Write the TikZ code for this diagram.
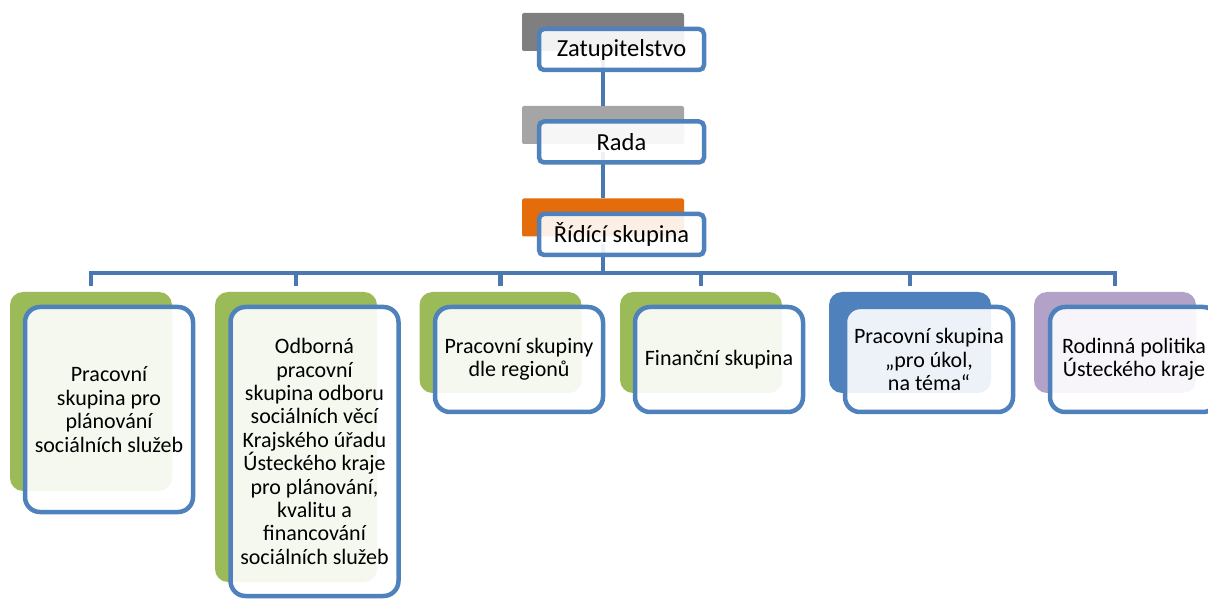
\documentclass[tikz,border=0pt]{standalone}
\usepackage{fontspec}
\setmainfont{Carlito}
\definecolor{bord}{HTML}{4F81BD}
\definecolor{cconn}{HTML}{4A79B2}
\definecolor{cgrey1}{HTML}{7F7F7F}
\definecolor{cgrey2}{HTML}{A5A5A5}
\definecolor{corange}{HTML}{E46C0A}
\definecolor{cgreen}{HTML}{9BBB59}
\definecolor{cblue}{HTML}{4F81BD}
\definecolor{cpurple}{HTML}{B2A2C7}
\tikzset{
  backtop/.style={fill=#1, rounded corners=2pt, inner sep=0pt, outer sep=0pt, minimum width=162pt, minimum height=38pt},
  fronttop/.style={draw=bord, line width=4.5pt, fill=white, fill opacity=0.9, text opacity=1, rounded corners=5pt, inner sep=0pt, outer sep=0pt, minimum width=165pt, minimum height=41pt, font=\fontsize{24.5}{28}\selectfont},
  backlow/.style={fill=#1, rounded corners=13pt, inner sep=0pt, outer sep=0pt, minimum width=162pt},
  frontlow/.style={draw=bord, line width=4.5pt, fill=white, fill opacity=0.9, text opacity=1, rounded corners=15pt, inner sep=0pt, outer sep=0pt, minimum width=168pt, align=center, font=\fontsize{22}{23.4}\selectfont},
  conn/.style={draw=cconn, line width=4.5pt}
}
\begin{document}
\begin{tikzpicture}[x=1pt,y=-1pt]
\useasboundingbox (0,0) rectangle (1208,601);
\clip (0,0) rectangle (1208,601);
% back rectangles (top)
\node[backtop=cgrey1] (zb) at (603,32) {};
\node[backtop=cgrey2] (rb) at (603,125) {};
\node[backtop=corange] (sb) at (603,217.5) {};
% back rectangles (lower)
\node[backlow=cgreen, minimum height=199pt] (b1) at (91,391.5) {};
\node[backlow=cgreen, minimum height=290pt] (b2) at (296,437) {};
\node[backlow=cgreen, minimum height=101pt] (b3) at (500.5,342.5) {};
\node[backlow=cgreen, minimum height=101pt] (b4) at (701,342.5) {};
\node[backlow=cblue, minimum height=101pt] (b5) at (910,342.5) {};
\node[backlow=cpurple, minimum height=101pt] (b6) at (1115,342.5) {};
% connectors
\coordinate (bus) at (603,273);
\draw[conn] ([yshift=-8pt]zb.south) -- (rb.north);
\draw[conn] ([yshift=-8pt]rb.south) -- (sb.north);
\draw[conn] ([yshift=-8pt]sb.south) -- (bus);
\draw[conn, line cap=rect] (b1.north |- bus) -- (b6.north |- bus);
\foreach \b in {b1,b2,b3,b4,b5,b6}{
  \draw[conn] (\b.north |- bus) -- ([yshift=6pt]\b.north);
}
% front boxes (top)
\node[fronttop] (z) at (621.5,49.5) {Zatupitelstvo};
\node[fronttop] (r) at (621.5,142) {Rada};
\node[fronttop] (s) at (621.5,234.5) {Řídící skupina};
% front boxes (lower)
\node[frontlow, minimum height=205pt] (f1) at (109,409.5) {Pracovní\\skupina pro\\plánování\\sociálních služeb};
\node[frontlow, minimum height=289pt] (f2) at (314.5,451.5) {Odborná\\pracovní\\skupina odboru\\sociálních věcí\\Krajského úřadu\\Ústeckého kraje\\pro plánování,\\kvalitu a\\financování\\sociálních služeb};
\node[frontlow, minimum height=105pt] (f3) at (519,359.5) {Pracovní skupiny\\dle regionů};
\node[frontlow, minimum height=105pt] (f4) at (719,359.5) {Finanční skupina};
\node[frontlow, minimum height=105pt] (f5) at (929,359.5) {Pracovní skupina\\„pro úkol,\\na téma“};
\node[frontlow, minimum height=105pt] (f6) at (1134,359.5) {Rodinná politika\\Ústeckého kraje};
\end{tikzpicture}
\end{document}
